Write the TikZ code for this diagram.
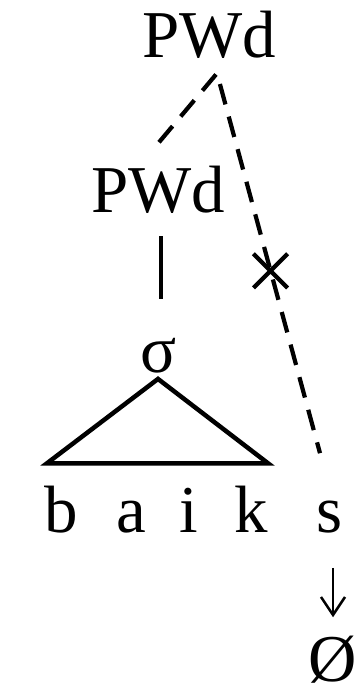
\documentclass[tikz,border=0pt]{standalone}
\usepackage{fontspec}
\setmainfont{Liberation Serif}
\usetikzlibrary{arrows.meta,calc,shapes.misc}
\tikzset{
  seg/.style={font=\fontsize{47.6}{57}\selectfont, inner sep=0pt, anchor=base},
  branch/.style={line width=3.2pt, black},
  assoc/.style={line width=3pt, dash pattern=on 15pt off 9pt, black},
  delink/.style={cross out, draw, solid, line width=3pt, minimum size=0.75cm, inner sep=0pt},
  rewrite/.style={-{Straight Barb[length=4.5mm,width=6mm]}, line width=1.8pt},
}

\begin{document}
\begin{tikzpicture}[x=0.025cm,y=-0.025cm]
  % 1 unit = 1 px of the figure, y runs down
  \useasboundingbox (0,0) rectangle (360,695);

  \node[seg] (top) at (209,58) {PWd};
  \node[seg] (pwd) at (158,212) {PWd};
  \node[seg] (syl) at (159,372) {σ};

  \node[seg] (b) at (61,532) {b};
  \node[seg] (a) at (131,532) {a};
  \node[seg] (i) at (189,532) {i};
  \node[seg] (k) at (251,532) {k};
  \node[seg] (s) at (330,532) {s};
  \node[seg] (null) at (333,681) {Ø};

  \coordinate (apex) at ($(top.south)+(8,14)$);

  % prosodic links
  \draw[assoc] ($(pwd.north)+(1,-23)$) -- (apex)
    -- node[delink, pos=0.52] {} ($(s.north)+(-10,-47)$);
  \draw[branch] ($(pwd.south)+(3,23)$) -- ($(syl.north)+(2,-38)$);
  \draw[branch] ($(syl.south)+(-1,6)$) -- ($(b.north west)+(3,-22)$)
    -- ($(k.north east)+(0,-22)$) -- cycle;

  % deletion
  \draw[rewrite, shorten <=0.875cm, shorten >=0.45cm] (null.north |- s.south) -- (null.north);
\end{tikzpicture}
\end{document}
